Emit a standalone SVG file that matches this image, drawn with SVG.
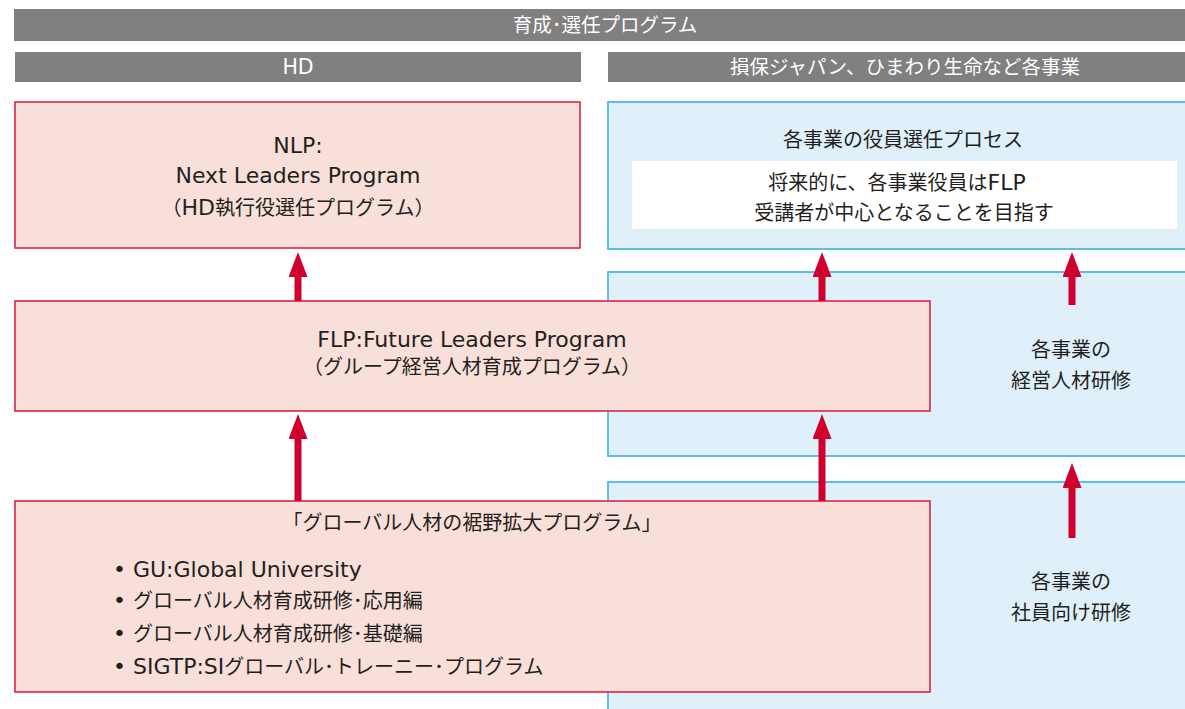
<svg xmlns="http://www.w3.org/2000/svg" width="1185" height="709" viewBox="0 0 1185 709">
<style>
text{font-family:"Liberation Sans","Noto Sans CJK JP",sans-serif;font-size:20px;fill:#231f20;text-anchor:middle}
.lat{font-family:"DejaVu Sans","Noto Sans CJK JP",sans-serif;font-size:22px}
.hdr{fill:#808080}
.ht{fill:#ffffff;font-size:19.5px}
.htl{font-size:20.5px}
.red{fill:#f9dfd9;stroke:#d7193f;stroke-width:1.5}
.blue{fill:#dff0fa;stroke:#4db8e8;stroke-width:1.8}
.arr{stroke:#d0002e;stroke-width:7;fill:none;marker-end:url(#ah)}
.l{text-anchor:start}
</style>
<defs>
<marker id="ah" markerUnits="userSpaceOnUse" markerWidth="26" markerHeight="20" viewBox="0 0 26 20" refX="1" refY="9.5" orient="auto">
<path d="M0,0 L25,9.5 L0,19 z" fill="#d0002e"/>
</marker>
</defs>
<g id="header">
<rect class="hdr" x="14" y="9" width="1175" height="32"/>
<text class="ht" x="605" y="32">育成･選任プログラム</text>
</g>
<g id="hd-header">
<rect class="hdr" x="15" y="52" width="566" height="30"/>
<text class="ht lat htl" x="298" y="74">HD</text>
</g>
<g id="biz-header">
<rect class="hdr" x="608" y="52" width="580" height="30"/>
<text class="ht" x="905" y="74">損保ジャパン、ひまわり生命など各事業</text>
</g>
<g id="biz-exec">
<rect class="blue" x="608" y="102" width="585" height="147"/>
<text x="903" y="147">各事業の役員選任プロセス</text>
<rect x="632" y="161" width="545" height="68" fill="#ffffff"/>
<text x="897" y="190">将来的に、各事業役員は<tspan class="lat">FLP</tspan></text>
<text x="904" y="220">受講者が中心となることを目指す</text>
</g>
<g id="biz-mgmt">
<rect class="blue" x="608" y="272" width="585" height="184"/>
<text x="1071" y="357">各事業の</text>
<text x="1071" y="388">経営人材研修</text>
</g>
<g id="biz-staff">
<rect class="blue" x="608" y="482" width="585" height="240"/>
<text x="1071" y="589">各事業の</text>
<text x="1071" y="620">社員向け研修</text>
</g>
<g id="nlp">
<rect class="red" x="15" y="102" width="565" height="146"/>
<text class="lat" x="298" y="153">NLP:</text>
<text class="lat" x="298" y="183">Next Leaders Program</text>
<text x="298" y="215">（<tspan class="lat">HD</tspan>執行役選任プログラム）</text>
</g>
<g id="flp">
<rect class="red" x="15" y="301" width="915" height="110"/>
<text class="lat" x="472" y="347">FLP:Future Leaders Program</text>
<text x="472" y="374">（グループ経営人材育成プログラム）</text>
</g>
<g id="global">
<rect class="red" x="15" y="501" width="915" height="191"/>
<text x="472" y="530">「グローバル人材の裾野拡大プログラム」</text>
<text class="l" x="113" y="577"><tspan class="lat">• GU:Global University</tspan></text>
<text class="l" x="113" y="608"><tspan class="lat">• </tspan>グローバル人材育成研修･応用編</text>
<text class="l" x="113" y="641"><tspan class="lat">• </tspan>グローバル人材育成研修･基礎編</text>
<text class="l" x="113" y="674"><tspan class="lat">• SIGTP:SI</tspan>グローバル･トレーニー･プログラム</text>
</g>
<g id="connectors">
<line class="arr" x1="298" y1="301" x2="298" y2="276"/>
<line class="arr" x1="298" y1="501" x2="298" y2="438"/>
<line class="arr" x1="822" y1="301" x2="822" y2="276"/>
<line class="arr" x1="822" y1="501" x2="822" y2="438"/>
<line class="arr" x1="1072" y1="305" x2="1072" y2="276"/>
<line class="arr" x1="1072" y1="538" x2="1072" y2="487"/>
</g>
</svg>
